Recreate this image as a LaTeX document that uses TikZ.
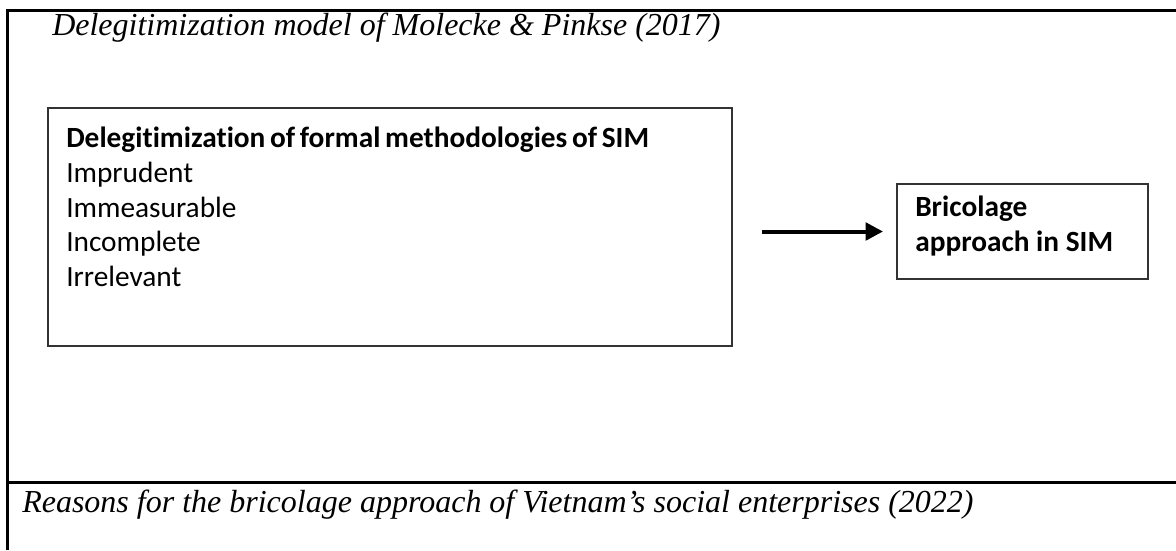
\documentclass[tikz,border=0pt]{standalone}
\usepackage{fontspec}
\setmainfont{Liberation Serif}
\newfontfamily\calibri[Ligatures=NoCommon]{Carlito}
\usetikzlibrary{arrows.meta,positioning}

\tikzset{
  frame/.style={draw=black!80, line width=1.5pt, inner sep=0pt},
  caption/.style={font=\fontsize{24}{29}\selectfont\itshape, inner sep=0pt},
  body/.style={font=\fontsize{22}{26}\selectfont\calibri, align=left, inner sep=0pt}
}

\begin{document}
\begin{tikzpicture}[x=0.75pt, y=-0.75pt]
  \useasboundingbox (0,0) rectangle (1176,550);
  % table rules
  \draw[line width=2.25pt] (1176,10) -- (7,10) -- (7,550);
  \draw[line width=2.25pt] (7,482) -- (1176,482);
  % captions
  \node[caption, anchor=base west] (toptitle) at (52,35)
    {Delegitimization model of Molecke \& Pinkse (2017)};
  \node[caption, anchor=base west] (bottitle) at (22,512)
    {Reasons for the bricolage approach of Vietnam’s social enterprises (2022)};
  % boxes
  \node[frame, anchor=north west, minimum width=513pt, minimum height=178.5pt]
    (delbox) at (47,107) {};
  \node[body, anchor=north west] (dellist) at (66,127)
    {{\bfseries\spaceskip=0.16em plus 0.05em\relax
      Delegitimization of formal methodologies of SIM}\\
     Imprudent\\ Immeasurable\\ Incomplete\\ Irrelevant};
  \node[frame, anchor=north west, minimum width=188.25pt, minimum height=71.25pt]
    (bric) at (896,183) {};
  \node[body, font=\fontsize{22}{26}\selectfont\calibri\bfseries, anchor=north west]
    (brictext) at (915,196) {Bricolage\\ approach in SIM};
  \draw[-{Triangle[length=13pt,width=13pt]}, line width=3pt,
        shorten <=21.75pt, shorten >=9.75pt] (delbox.east |- bric.west) -- (bric.west);
\end{tikzpicture}
\end{document}
